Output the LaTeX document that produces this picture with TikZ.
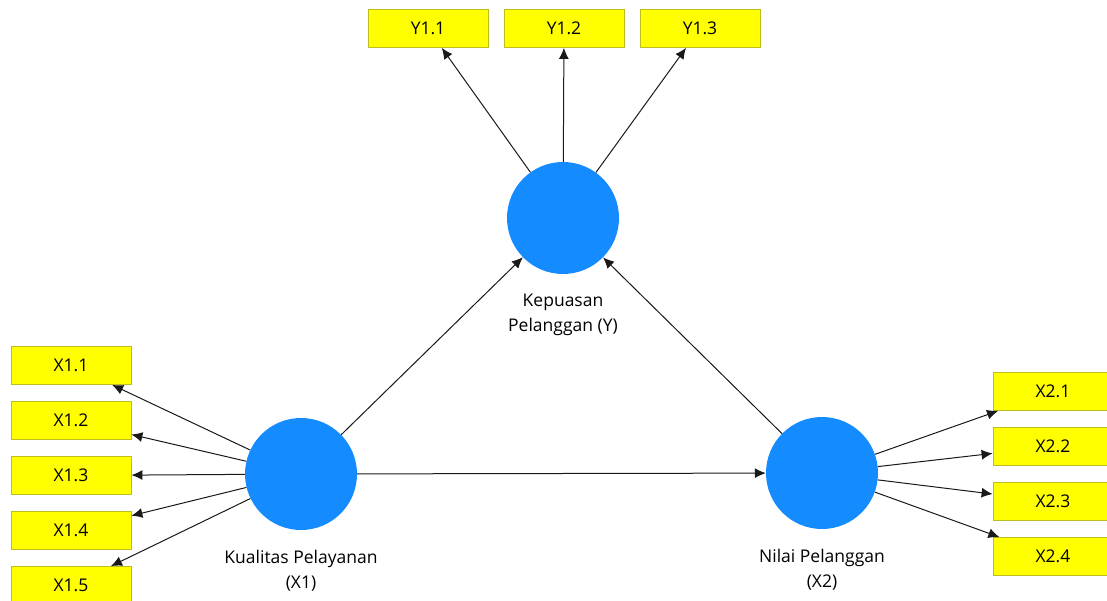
\documentclass[tikz,border=0pt]{standalone}
\usepackage{fontspec}
\setmainfont{Open Sans}
\usetikzlibrary{arrows.meta}
\definecolor{latentblue}{RGB}{20,140,255}
\definecolor{itemyellow}{RGB}{255,255,0}
\definecolor{itemborder}{RGB}{190,190,30}

\begin{document}
\begin{tikzpicture}[x=1pt,y=-1pt]

\useasboundingbox (0,0) rectangle (1107,601);

\tikzset{latent/.style = {shape=circle,fill=latentblue,minimum size=112pt,inner sep=0pt}}
\tikzset{item/.style = {shape=rectangle,draw=itemborder,line width=0.8pt,fill=itemyellow,minimum width=120pt,minimum height=38pt,inner sep=0pt,font=\fontsize{17.5}{20}\selectfont}}
\tikzset{caption/.style = {align=center,font=\fontsize{17.5}{25}\selectfont}}
\tikzset{edge/.style = {-{Latex[length=11pt,width=10pt]},line width=1pt,draw=black!90}}

% latent variables
\node[latent] (Y) at (563,218) {};
\node[latent] (X1) at (301,474) {};
\node[latent] (X2) at (822,473) {};

\node[caption] (capY) at (563,315) {Kepuasan\\Pelanggan (Y)};
\node[caption] (capX1) at (301,571) {Kualitas Pelayanan\\(X1)};
\node[caption] (capX2) at (822,570) {Nilai Pelanggan\\(X2)};

% indicators
\foreach \pos/\name/\lbl in {{(428,28.5)/y11/Y1.1}, {(564,28.5)/y12/Y1.2}, {(700,28.5)/y13/Y1.3},
  {(71,365.5)/x11/X1.1}, {(71,420.5)/x12/X1.2}, {(71,475.5)/x13/X1.3}, {(71,530.5)/x14/X1.4}, {(71,585.5)/x15/X1.5},
  {(1053,391.5)/x21/X2.1}, {(1053,446.5)/x22/X2.2}, {(1053,501.5)/x23/X2.3}, {(1053,556.5)/x24/X2.4}}
\node[item] (\name) at \pos {\lbl};

\foreach \from/\to in {Y/y11, Y/y12, Y/y13, X1/x11, X1/x12, X1/x13, X1/x14, X1/x15, X2/x21, X2/x22, X2/x23, X2/x24}
\draw [edge] (\from) -- (\to);

% paths
\foreach \from/\to in {X1/Y, X2/Y, X1/X2}
\draw [edge] (\from) -- (\to);

\end{tikzpicture}
\end{document}
